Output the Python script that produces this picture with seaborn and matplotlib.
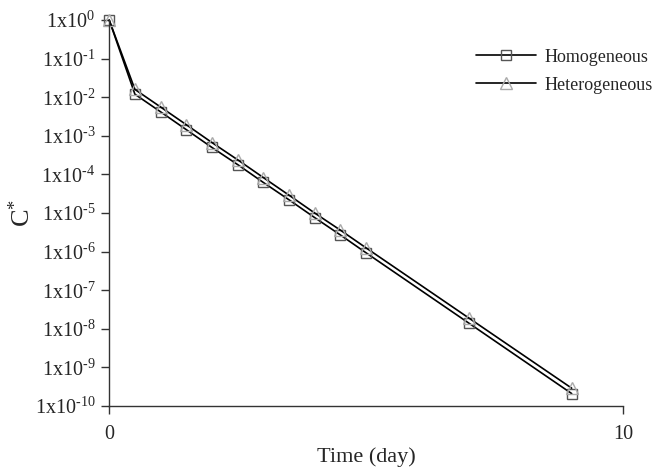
"""
Concentration decay C* vs time, homogeneous vs heterogeneous (semi-log)
"""

import numpy as np
import pandas as pd
import matplotlib
matplotlib.use('Agg')
import matplotlib.pyplot as plt
import seaborn as sns

# ----------------------------------------------------------------------------
# data
# ----------------------------------------------------------------------------
time_day = [0.0, 0.5, 1.0, 1.5, 2.0, 2.5, 3.0, 3.5, 4.0, 4.5, 5.0, 7.0, 9.0]
c_homogeneous = [1.0, 1.2e-2, 4.2e-3, 1.45e-3, 5.0e-4, 1.8e-4, 6.2e-5,
                 2.2e-5, 7.6e-6, 2.7e-6, 9.3e-7, 1.4e-8, 2.1e-10]
c_heterogeneous = [1.0, 1.6e-2, 5.6e-3, 1.95e-3, 6.7e-4, 2.4e-4, 8.3e-5,
                   2.9e-5, 1.0e-5, 3.6e-6, 1.25e-6, 1.9e-8, 2.9e-10]

y_exponents = list(range(0, -11, -1))
x_ticks = [0, 10]

df = pd.DataFrame({
    'time': time_day,
    'Homogeneous': c_homogeneous,
    'Heterogeneous': c_heterogeneous,
})

# ----------------------------------------------------------------------------
# style
# ----------------------------------------------------------------------------
sns.set_theme(style='ticks')
plt.rcParams['font.family'] = ['Liberation Serif', 'DejaVu Serif']
plt.rcParams['mathtext.fontset'] = 'custom'
plt.rcParams['mathtext.rm'] = 'Liberation Serif'
plt.rcParams['mathtext.it'] = 'Liberation Serif:italic'

fig = plt.figure(figsize=(6.66, 4.68), dpi=100)
ax = fig.add_axes([0.164, 0.1325, 0.7715, 0.8245])

sns.lineplot(data=df, x='time', y='Homogeneous', ax=ax, color='black',
             linewidth=1.2, marker='s', markersize=7, markerfacecolor='none',
             markeredgecolor='#555555', markeredgewidth=1.0,
             label='Homogeneous', clip_on=False)
sns.lineplot(data=df, x='time', y='Heterogeneous', ax=ax, color='black',
             linewidth=1.2, marker='^', markersize=8, markerfacecolor='none',
             markeredgecolor='#aaaaaa', markeredgewidth=1.0,
             label='Heterogeneous', clip_on=False)

ax.set_yscale('log')
ax.set_xlim(0, 10)
ax.set_ylim(1e-10, 1e0)

ax.set_yticks([10.0 ** k for k in y_exponents])
ax.set_yticklabels([r'$\mathrm{1x10^{\text{%d}}}$' % k for k in y_exponents])
ax.yaxis.set_minor_locator(matplotlib.ticker.NullLocator())
ax.set_xticks(x_ticks)
ax.set_xticklabels([str(v) for v in x_ticks])

ax.tick_params(axis='both', which='major', labelsize=14.5, length=6,
               width=1.0, color='#333333', direction='out', pad=4)
ax.tick_params(axis='x', pad=8)

for side in ['left', 'bottom']:
    ax.spines[side].set_color('#333333')
    ax.spines[side].set_linewidth(1.0)
sns.despine(ax=ax)

ax.set_xlabel('Time (day)', fontsize=16, labelpad=2)
ax.set_ylabel(r'$\mathrm{C^{*}}$', fontsize=19)
ax.yaxis.set_label_coords(-0.145, 0.5)

leg = ax.legend(loc='upper right', bbox_to_anchor=(1.09, 0.968), frameon=False,
                fontsize=13, handlelength=3.3, handletextpad=0.5,
                labelspacing=0.6)

fig.savefig('out.png', dpi=100)
plt.close(fig)
